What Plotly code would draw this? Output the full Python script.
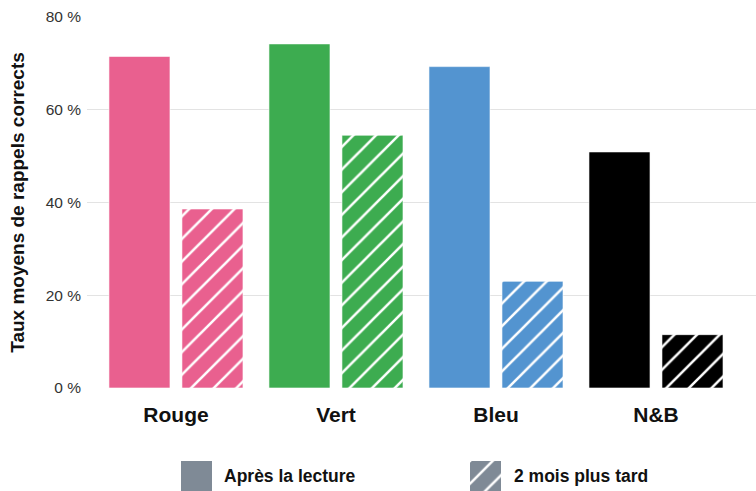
import plotly.graph_objects as go

# Recall rates (%) per colour condition
categories = ["Rouge", "Vert", "Bleu", "N&B"]
after_reading = [71.5, 74.2, 69.3, 50.9]
two_months_later = [38.6, 54.5, 23.0, 11.5]
bar_colors = ["#E9608F", "#3DAC50", "#5394D0", "#000000"]
y_ticks = [0, 20, 40, 60, 80]
y_tick_labels = ["0 %", "20 %", "40 %", "60 %", "80 %"]
series_names = ["Après la lecture", "2 mois plus tard"]
legend_gray = "#7F8A96"

FONT = "Liberation Sans, Arial, Helvetica, sans-serif"
W, H = 756, 491


def fx(p):
    """Horizontal pixel -> paper fraction."""
    return p / W


def fy(p):
    """Vertical pixel (from top) -> paper fraction."""
    return (H - p) / H


hatch = dict(shape="/", fgcolor="white", fgopacity=1, size=16, solidity=0.16,
             fillmode="overlay")
edge = dict(color="rgba(255,255,255,0.6)", width=1)

fig = go.Figure()

# One trace per colour so each hatched bar keeps its own background colour;
# offsetgroups keep the two series side by side within each category.
for cat, v1, v2, col in zip(categories, after_reading, two_months_later, bar_colors):
    fig.add_trace(go.Bar(
        x=[cat], y=[v1], name=series_names[0], offsetgroup="apres",
        marker=dict(color=col, line=edge), showlegend=False, hoverinfo="x+y",
    ))
    fig.add_trace(go.Bar(
        x=[cat], y=[v2], name=series_names[1], offsetgroup="tard",
        marker=dict(color=col, line=edge, pattern=hatch),
        showlegend=False, hoverinfo="x+y",
    ))

# Legend swatches drawn as single bars on small hidden axes
fig.add_trace(go.Bar(
    x=[0], y=[1], xaxis="x2", yaxis="y2", showlegend=False, hoverinfo="skip",
    marker=dict(color=legend_gray, line=dict(width=0)), width=1,
))
fig.add_trace(go.Bar(
    x=[0], y=[1], xaxis="x3", yaxis="y3", showlegend=False, hoverinfo="skip",
    marker=dict(color=legend_gray, line=dict(width=0), pattern=hatch),
    width=1,
))

hidden = dict(visible=False, showgrid=False, zeroline=False, fixedrange=True,
              automargin=False)

fig.update_layout(
    width=W, height=H,
    margin=dict(l=0, r=0, t=0, b=0, pad=0, autoexpand=False),
    paper_bgcolor="white", plot_bgcolor="white",
    font=dict(family=FONT, color="#222"),
    barmode="group", bargap=0.0875, bargroupgap=0.164,
    xaxis=dict(
        domain=[fx(87), 1], anchor="y", automargin=False,
        categoryorder="array", categoryarray=categories,
        range=[-0.556, 3.625], showgrid=False, zeroline=False, showline=False,
        ticks="outside", ticklen=8, tickcolor="rgba(0,0,0,0)",
        tickfont=dict(family=FONT, size=21, color="#111", weight="bold"),
        fixedrange=True,
    ),
    yaxis=dict(
        domain=[fy(388), fy(17)], anchor="x", automargin=False,
        range=[0, 80], tickvals=y_ticks, ticktext=y_tick_labels,
        showgrid=True, gridcolor="#E3E3E3", gridwidth=1, zeroline=False,
        showline=False, ticks="", ticklabelstandoff=5,
        tickfont=dict(family=FONT, size=15.5, color="#333"),
        title=dict(text="Taux moyens de rappels corrects",
                   font=dict(family=FONT, size=19, color="#111", weight="bold"),
                   standoff=16),
        fixedrange=True,
    ),
    xaxis2=dict(domain=[fx(181), fx(212)], range=[-0.5, 0.5], anchor="y2", **hidden),
    yaxis2=dict(domain=[fy(491), fy(461)], range=[0, 1], anchor="x2", **hidden),
    xaxis3=dict(domain=[fx(470), fx(501)], range=[-0.5, 0.5], anchor="y3", **hidden),
    yaxis3=dict(domain=[fy(491), fy(461)], range=[0, 1], anchor="x3", **hidden),
    showlegend=False,
)

# Legend labels
for text, xpos in zip(series_names, [222, 512]):
    fig.add_annotation(
        x=fx(xpos), y=fy(476), xref="paper", yref="paper",
        text=text, showarrow=False, xanchor="left", yanchor="middle",
        font=dict(family=FONT, size=17.5, color="#111", weight="bold"),
    )

fig.write_html("out.html")
